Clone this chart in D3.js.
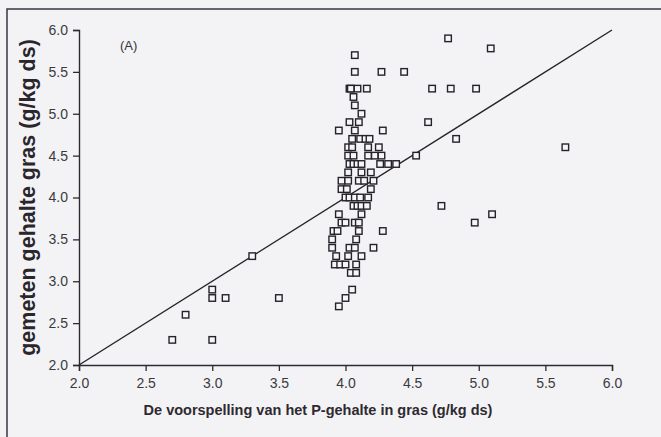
<!DOCTYPE html>
<html>
<head>
<meta charset="utf-8">
<script src="https://cdn.jsdelivr.net/npm/d3@7"></script>
<style>
    html, body { margin: 0; padding: 0; background: #f3f3f6; }
    svg { display: block; font-family: "Liberation Sans", Arial, sans-serif; }
</style>
</head>
<body>
<svg id="chart"></svg>
<script>
const w = 661, h = 437;

const margin = {
    left: 79,
    right: 49,
    top: 30,
    bottom: 72
};

const predicted = [
    2.7, 2.8, 3.0, 3.0, 3.0, 3.1, 3.3, 3.5,
    3.95, 4.0, 4.05,
    4.04, 4.08,
    3.92, 3.96, 4.0, 4.08,
    3.93, 4.02, 4.12,
    3.90, 4.03, 4.07, 4.21,
    3.90, 4.08,
    3.91, 3.94, 4.10, 4.28,
    3.97, 4.0, 4.07, 4.10, 4.97,
    3.95, 4.12, 5.10,
    4.06, 4.09, 4.12, 4.16, 4.72,
    4.0, 4.03, 4.07, 4.11, 4.17,
    3.97, 4.01, 4.19,
    3.97, 4.02, 4.10, 4.14, 4.21,
    4.02, 4.12, 4.19,
    4.03, 4.06, 4.09, 4.12, 4.26, 4.32, 4.38,
    4.02, 4.06, 4.17, 4.22, 4.27, 4.53,
    4.02, 4.05, 4.17, 4.25, 5.65,
    4.05, 4.11, 4.15, 4.18, 4.83,
    3.95, 4.07, 4.28,
    4.03, 4.10, 4.62,
    4.12,
    4.07,
    4.06,
    4.03, 4.04, 4.09, 4.16, 4.65, 4.79, 4.98,
    4.07, 4.27, 4.44,
    4.07,
    5.09,
    4.77
];
const measured = [
    2.3, 2.6, 2.3, 2.8, 2.9, 2.8, 3.3, 2.8,
    2.7, 2.8, 2.9,
    3.1, 3.1,
    3.2, 3.2, 3.2, 3.2,
    3.3, 3.3, 3.3,
    3.4, 3.4, 3.4, 3.4,
    3.5, 3.5,
    3.6, 3.6, 3.6, 3.6,
    3.7, 3.7, 3.7, 3.7, 3.7,
    3.8, 3.8, 3.8,
    3.9, 3.9, 3.9, 3.9, 3.9,
    4.0, 4.0, 4.0, 4.0, 4.0,
    4.1, 4.1, 4.1,
    4.2, 4.2, 4.2, 4.2, 4.2,
    4.3, 4.3, 4.3,
    4.4, 4.4, 4.4, 4.4, 4.4, 4.4, 4.4,
    4.5, 4.5, 4.5, 4.5, 4.5, 4.5,
    4.6, 4.6, 4.6, 4.6, 4.6,
    4.7, 4.7, 4.7, 4.7, 4.7,
    4.8, 4.8, 4.8,
    4.9, 4.9, 4.9,
    5.0,
    5.1,
    5.2,
    5.3, 5.3, 5.3, 5.3, 5.3, 5.3, 5.3,
    5.5, 5.5, 5.5,
    5.7,
    5.78,
    5.9
];

const tickValues = [2.0, 2.5, 3.0, 3.5, 4.0, 4.5, 5.0, 5.5, 6.0];
const lineEnds = [2.0, 6.0];

const xLabel = 'De voorspelling van het P-gehalte in gras (g/kg ds)';
const yLabel = 'gemeten gehalte gras (g/kg ds)';
const panelLabel = '(A)';

const xScale = d3.scaleLinear()
    .domain([2, 6])
    .range([margin.left, w - margin.right]);

const yScale = d3.scaleLinear()
    .domain([2, 6])
    .range([h - margin.bottom, margin.top]);

const chart = d3.select('#chart')
    .attr('width', w)
    .attr('height', h);

// scanned page frame (left and top edges only are visible)
chart.append('path')
    .attr('d', `M7,${h} V9 H${w}`)
    .attr('fill', 'none')
    .attr('stroke', '#3b3546')
    .attr('stroke-width', 1.5);

const fmt = d3.format('.1f');

const xAxis = chart.append('g')
    .attr('transform', `translate(0, ${h - margin.bottom})`)
    .call(d3.axisBottom(xScale).tickValues(tickValues).tickFormat(fmt).tickSize(6).tickPadding(7));

const yAxis = chart.append('g')
    .attr('transform', `translate(${margin.left},0)`)
    .call(d3.axisLeft(yScale).tickValues(tickValues).tickFormat(fmt).tickSize(6).tickPadding(5));

[xAxis, yAxis].forEach(ax => {
    ax.select('.domain').attr('stroke', '#2e2a30').attr('stroke-width', 1.4);
    ax.selectAll('.tick line').attr('stroke', '#2e2a30').attr('stroke-width', 1.3);
    ax.selectAll('.tick text')
        .attr('font-size', '14px')
        .attr('fill', '#3a3a3e')
        .attr('font-family', '"Liberation Sans", Arial, sans-serif');
});

// 1:1 line
const line = d3.line()
    .x(d => xScale(d))
    .y(d => yScale(d));

chart.append('path')
    .datum(lineEnds)
    .attr('d', line)
    .attr('fill', 'none')
    .attr('stroke', '#262226')
    .attr('stroke-width', 1.4);

const points = predicted.map((p, i) => ({x: p, y: measured[i]}));
const s = 6.5;

chart.append('g')
    .selectAll('rect')
    .data(points)
    .join('rect')
    .attr('x', d => xScale(d.x) - s / 2)
    .attr('y', d => yScale(d.y) - s / 2)
    .attr('width', s)
    .attr('height', s)
    .attr('fill', '#f6f6f8')
    .attr('stroke', '#26222a')
    .attr('stroke-width', 1.4);

chart.append('text')
    .attr('x', 120)
    .attr('y', 50)
    .attr('font-size', '13px')
    .attr('fill', '#333')
    .text(panelLabel);

chart.append('text')
    .attr('x', 318)
    .attr('y', 415)
    .attr('text-anchor', 'middle')
    .attr('font-size', '14.5px')
    .attr('font-weight', 'bold')
    .attr('fill', '#2e2a30')
    .text(xLabel);

chart.append('text')
    .attr('transform', `translate(35, ${(yScale(2) + yScale(6)) / 2}) rotate(-90)`)
    .attr('text-anchor', 'middle')
    .attr('font-size', '21.5px')
    .attr('font-weight', 'bold')
    .attr('fill', '#2a262c')
    .text(yLabel);
</script>
</body>
</html>
